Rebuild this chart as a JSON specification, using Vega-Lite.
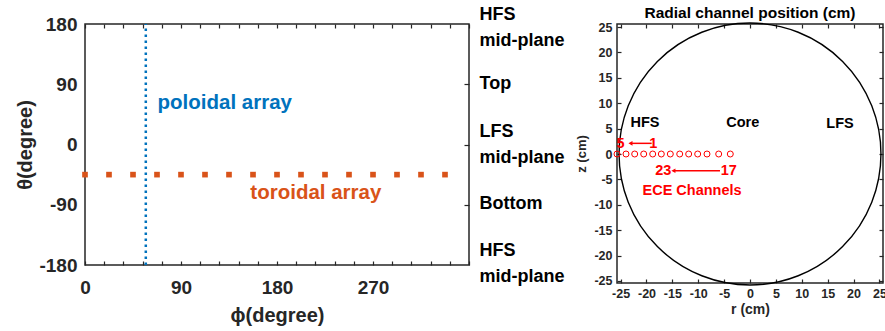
{
  "$schema": "https://vega.github.io/schema/vega-lite/v6.json",
  "background": "white",
  "padding": {"left": 15, "top": 4, "right": 0, "bottom": 0},
  "bounds": "flush",
  "spacing": 148,
  "resolve": {"scale": {"color": "independent"}},
  "config": {
    "font": "Liberation Sans",
    "view": {"stroke": "#262626", "strokeWidth": 1.5},
    "axis": {"labelFont": "Liberation Sans", "titleFont": "Liberation Sans", "labelFontWeight": "bold", "titleFontWeight": "bold", "labelColor": "#262626", "titleColor": "#262626", "tickColor": "#262626", "tickWidth": 1.2, "grid": false, "domain": false, "labelFlush": false, "labelOverlap": false},
    "text": {"font": "Liberation Sans"},
    "title": {"font": "Liberation Sans"}
  },
  "datasets": {
    "toroidal": [
      {"phi": 0, "theta": -45}, {"phi": 22.5, "theta": -45}, {"phi": 45, "theta": -45}, {"phi": 67.5, "theta": -45},
      {"phi": 90, "theta": -45}, {"phi": 112.5, "theta": -45}, {"phi": 135, "theta": -45}, {"phi": 157.5, "theta": -45},
      {"phi": 180, "theta": -45}, {"phi": 202.5, "theta": -45}, {"phi": 225, "theta": -45}, {"phi": 247.5, "theta": -45},
      {"phi": 270, "theta": -45}, {"phi": 292.5, "theta": -45}, {"phi": 315, "theta": -45}, {"phi": 337.5, "theta": -45}
    ],
    "poloidal": [{"phi": 57, "theta1": -180, "theta2": 180}],
    "leftText": [
      {"phi": 68, "theta": 62, "label": "poloidal array", "series": "poloidal"},
      {"phi": 155, "theta": -72.5, "label": "toroidal array", "series": "toroidal"}
    ],
    "boundary": [{"r": 0, "z": 0}],
    "channels": [
      {"r": -25.7, "z": 0}, {"r": -23.96, "z": 0}, {"r": -22.28, "z": 0}, {"r": -20.54, "z": 0},
      {"r": -18.8, "z": 0}, {"r": -17.14, "z": 0}, {"r": -15.4, "z": 0}, {"r": -13.58, "z": 0},
      {"r": -11.85, "z": 0}, {"r": -10.11, "z": 0}, {"r": -8.31, "z": 0}, {"r": -6.05, "z": 0},
      {"r": -3.81, "z": 0}
    ],
    "arrows": [
      {"r1": -19.0, "r2": -23.1, "z": 2.1},
      {"r1": -5.8, "r2": -14.8, "z": -3.3}
    ],
    "rightText": [
      {"r": -20.3, "z": 6.2, "label": "HFS", "kind": "region"},
      {"r": -1.4, "z": 6.2, "label": "Core", "kind": "region"},
      {"r": 17.4, "z": 5.9, "label": "LFS", "kind": "region"},
      {"r": -25.0, "z": 1.9, "label": "5", "kind": "channel"},
      {"r": -18.7, "z": 1.9, "label": "1", "kind": "channel"},
      {"r": -16.75, "z": -3.3, "label": "23", "kind": "channel"},
      {"r": -4.1, "z": -3.3, "label": "17", "kind": "channel"},
      {"r": -11.2, "z": -7.2, "label": "ECE Channels", "kind": "channel"}
    ]
  },
  "hconcat": [
    {
      "width": 384,
      "height": 241,
      "layer": [
        {
          "data": {"name": "toroidal"},
          "mark": {"type": "square", "filled": true, "color": "#D95319", "size": 32, "opacity": 1},
          "encoding": {
            "x": {"field": "phi", "type": "quantitative", "scale": {"domain": [0, 360], "nice": false, "zero": false},
              "axis": {"orient": "bottom", "values": [0, 18, 36, 54, 72, 90, 108, 126, 144, 162, 180, 198, 216, 234, 252, 270, 288, 306, 324, 342, 360],
                "labelExpr": "datum.value % 90 == 0 && datum.value < 360 ? '' + datum.value : ''",
                "offset": -4, "tickSize": 4, "labelPadding": 13, "labelFontSize": 19, "title": "ϕ(degree)", "titleFontSize": 20, "titlePadding": 8}},
            "y": {"field": "theta", "type": "quantitative", "scale": {"domain": [-180, 180], "nice": false, "zero": false},
              "axis": {"orient": "left", "values": [-180, -90, 0, 90, 180], "labelExpr": "'' + datum.value", "ticks": false, "labelPadding": 8, "labelFontSize": 19, "title": "θ(degree)", "titleFontSize": 20, "titlePadding": 3}}
          }
        },
        {
          "data": {"name": "poloidal"},
          "mark": {"type": "rule", "color": "#0072BD", "strokeWidth": 2.5, "strokeDash": [2.5, 3.5]},
          "encoding": {
            "x": {"field": "phi", "type": "quantitative", "scale": {"domain": [0, 360], "nice": false, "zero": false},
              "axis": {"orient": "top", "values": [0, 18, 36, 54, 72, 90, 108, 126, 144, 162, 180, 198, 216, 234, 252, 270, 288, 306, 324, 342, 360], "labels": false, "offset": -4, "tickSize": 4, "title": null}},
            "y": {"field": "theta1", "type": "quantitative", "scale": {"domain": [-180, 180], "nice": false, "zero": false},
              "axis": {"orient": "right", "values": [-90, 0, 90], "offset": -5, "tickSize": 5, "labelPadding": 10, "labelFontSize": 18, "labelColor": "black", "labelAlign": "left", "labelBaseline": "middle", "labelLineHeight": 26,
                "labelOffset": {"condition": {"test": "datum.value == 0", "value": -13}, "value": -1},
                "labelExpr": "datum.value == 90 ? 'Top' : datum.value == 0 ? ['LFS', 'mid-plane'] : 'Bottom'",
                "title": null}},
            "y2": {"field": "theta2"}
          }
        },
        {
          "data": {"name": "poloidal"},
          "mark": {"type": "rule", "opacity": 0},
          "encoding": {
            "x": {"field": "phi", "type": "quantitative", "scale": {"domain": [0, 360], "nice": false, "zero": false}, "axis": null},
            "y": {"field": "theta1", "type": "quantitative", "scale": {"domain": [-180, 180], "nice": false, "zero": false},
              "axis": {"orient": "right", "values": [-180, 180], "ticks": false, "labelPadding": 10, "labelFontSize": 18, "labelColor": "black", "labelAlign": "left", "labelBaseline": "middle", "labelLineHeight": 26,
                "labelOffset": {"condition": {"test": "datum.value == 180", "value": -10}, "value": -15},
                "labelExpr": "['HFS', 'mid-plane']",
                "title": null}},
            "y2": {"field": "theta2"}
          }
        },
        {
          "data": {"name": "leftText"},
          "mark": {"type": "text", "align": "left", "baseline": "middle", "fontSize": 20.5, "fontWeight": "bold"},
          "encoding": {
            "x": {"field": "phi", "type": "quantitative", "scale": {"domain": [0, 360], "nice": false, "zero": false}, "axis": null},
            "y": {"field": "theta", "type": "quantitative", "scale": {"domain": [-180, 180], "nice": false, "zero": false}, "axis": null},
            "text": {"field": "label"},
            "color": {"field": "series", "type": "nominal", "scale": {"domain": ["poloidal", "toroidal"], "range": ["#0072BD", "#D95319"]}, "legend": null}
          }
        }
      ],
      "resolve": {"axis": {"x": "independent", "y": "independent"}}
    },
    {
      "width": 266,
      "height": 259,
      "title": {"text": "Radial channel position (cm)", "fontSize": 15.5, "fontWeight": "bold", "color": "black", "offset": -1},
      "layer": [
        {
          "data": {"name": "boundary"},
          "mark": {"type": "point", "shape": "circle", "filled": false, "size": 68600, "stroke": "black", "strokeWidth": 1.4, "opacity": 1},
          "encoding": {
            "x": {"field": "r", "type": "quantitative", "scale": {"domain": [-25.7, 25.7], "nice": false, "zero": false},
              "axis": {"orient": "bottom", "values": [-25, -20, -15, -10, -5, 0, 5, 10, 15, 20, 25], "labelExpr": "'' + datum.value", "offset": -4, "tickSize": 4, "labelPadding": 4, "labelFontSize": 12.5, "title": "r (cm)", "titleFontSize": 14, "titlePadding": 3}},
            "y": {"field": "z", "type": "quantitative", "scale": {"domain": [-25.4, 25.6], "nice": false, "zero": false},
              "axis": {"orient": "left", "values": [-25, -20, -15, -10, -5, 0, 5, 10, 15, 20, 25], "labelExpr": "'' + datum.value", "offset": -4, "tickSize": 4, "labelPadding": 5, "labelFontSize": 12.5, "title": "z (cm)", "titleFontSize": 13, "titlePadding": 5}}
          }
        },
        {
          "data": {"name": "channels"},
          "mark": {"type": "point", "shape": "circle", "filled": false, "size": 36, "stroke": "#FF0000", "strokeWidth": 1, "opacity": 1},
          "encoding": {
            "x": {"field": "r", "type": "quantitative", "scale": {"domain": [-25.7, 25.7], "nice": false, "zero": false},
              "axis": {"orient": "top", "values": [-25, -20, -15, -10, -5, 0, 5, 10, 15, 20, 25], "labels": false, "offset": -4, "tickSize": 4, "title": null}},
            "y": {"field": "z", "type": "quantitative", "scale": {"domain": [-25.4, 25.6], "nice": false, "zero": false},
              "axis": {"orient": "right", "values": [-25, -20, -15, -10, -5, 0, 5, 10, 15, 20, 25], "labels": false, "offset": -4, "tickSize": 4, "title": null}}
          }
        },
        {
          "data": {"name": "arrows"},
          "mark": {"type": "rule", "color": "#FF0000", "strokeWidth": 1.5},
          "encoding": {
            "x": {"field": "r1", "type": "quantitative", "scale": {"domain": [-25.7, 25.7], "nice": false, "zero": false}, "axis": null},
            "x2": {"field": "r2"},
            "y": {"field": "z", "type": "quantitative", "scale": {"domain": [-25.4, 25.6], "nice": false, "zero": false}, "axis": null}
          }
        },
        {
          "data": {"name": "arrows"},
          "mark": {"type": "point", "shape": "triangle-left", "filled": true, "color": "#FF0000", "size": 22, "opacity": 1},
          "encoding": {
            "x": {"field": "r2", "type": "quantitative", "scale": {"domain": [-25.7, 25.7], "nice": false, "zero": false}, "axis": null},
            "y": {"field": "z", "type": "quantitative", "scale": {"domain": [-25.4, 25.6], "nice": false, "zero": false}, "axis": null}
          }
        },
        {
          "data": {"name": "rightText"},
          "mark": {"type": "text", "align": "center", "baseline": "middle", "fontSize": 14.5, "fontWeight": "bold"},
          "encoding": {
            "x": {"field": "r", "type": "quantitative", "scale": {"domain": [-25.7, 25.7], "nice": false, "zero": false}, "axis": null},
            "y": {"field": "z", "type": "quantitative", "scale": {"domain": [-25.4, 25.6], "nice": false, "zero": false}, "axis": null},
            "text": {"field": "label"},
            "color": {"field": "kind", "type": "nominal", "scale": {"domain": ["region", "channel"], "range": ["black", "#FF0000"]}, "legend": null}
          }
        }
      ],
      "resolve": {"axis": {"x": "independent", "y": "independent"}}
    }
  ]
}
